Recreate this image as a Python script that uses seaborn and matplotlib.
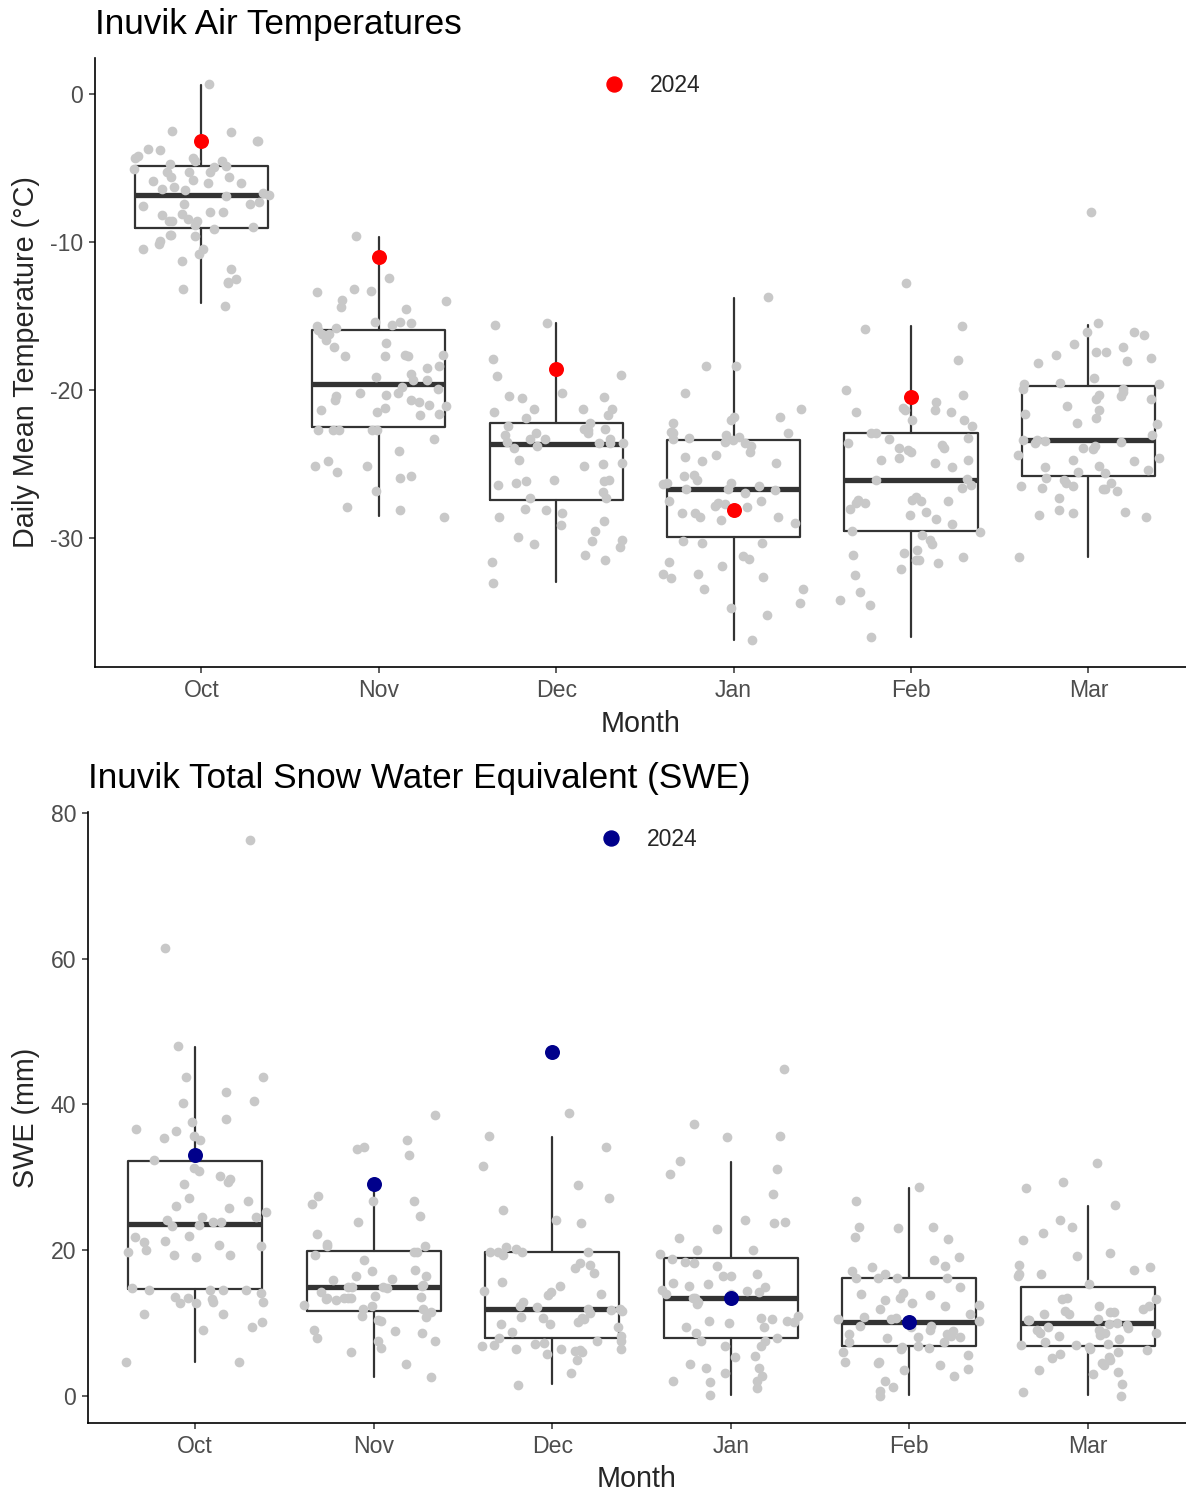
import numpy as np
import pandas as pd
import matplotlib
matplotlib.use("Agg")
import matplotlib.pyplot as plt
from matplotlib.lines import Line2D
import seaborn as sns

months = ["Oct", "Nov", "Dec", "Jan", "Feb", "Mar"]

# daily mean air temperature, one value per year (grey points)
temp_oct = [0.65, -2.6, -2.5, -3.1, -3.2, -3.2, -3.7, -3.8, -4.2, -4.3, -4.3, -4.5, -4.5, -4.7,
            -4.9, -4.95, -5.1, -5.25, -5.25, -5.25, -5.6, -5.6, -5.8, -5.9, -6.0, -6.0, -6.3,
            -6.4, -6.5, -6.7, -6.8, -6.9, -7.3, -7.4, -7.45, -7.6, -7.95, -8.0, -8.1, -8.2,
            -8.45, -8.55, -8.6, -8.6, -8.85, -9.0, -9.1, -9.5, -9.5, -9.6, -9.9, -10.1, -10.5,
            -10.5, -10.8, -11.3, -11.8, -12.5, -12.7, -12.75, -13.2, -14.3]
temp_nov = [-9.6, -12.45, -13.2, -13.3, -13.4, -13.9, -14.0, -14.4, -14.5, -15.4, -15.5, -15.4,
            -15.6, -15.7, -15.95, -15.8, -16.2, -16.2, -16.6, -16.8, -17.1, -17.6, -17.6, -17.7,
            -17.7, -17.7, -18.4, -18.5, -18.9, -19.1, -19.3, -19.3, -19.8, -19.9, -20.2, -20.2,
            -20.3, -20.4, -20.7, -20.7, -20.8, -21.05, -21.0, -21.2, -21.35, -21.5, -21.6, -21.7,
            -22.7, -22.7, -22.7, -22.7, -22.7, -23.3, -24.1, -24.8, -25.1, -25.1, -25.5, -25.8,
            -25.9, -26.8, -27.9, -28.1, -28.6]
temp_dec = [-15.45, -15.6, -17.9, -19.05, -19.0, -20.2, -20.45, -20.4, -20.5, -21.3, -21.3, -21.3,
            -21.5, -21.7, -21.9, -22.2, -22.4, -22.6, -22.6, -22.7, -22.9, -22.9, -23.0, -23.3,
            -23.3, -23.3, -23.5, -23.6, -23.6, -23.6, -23.8, -23.9, -24.7, -25.0, -24.95, -25.1,
            -26.1, -26.15, -26.15, -26.1, -26.4, -26.3, -26.9, -27.3, -27.3, -28.0, -28.1, -28.3,
            -28.6, -28.85, -29.1, -29.5, -29.9, -30.1, -30.2, -30.4, -30.6, -31.1, -31.5, -31.6,
            -33.0]
temp_jan = [-13.7, -18.4, -18.4, -20.2, -21.3, -21.8, -21.8, -22.2, -22.0, -22.8, -22.9, -23.0,
            -22.8, -23.3, -23.15, -22.9, -23.2, -23.5, -23.4, -23.6, -23.8, -24.4, -24.2, -24.5,
            -24.8, -24.95, -25.8, -25.7, -26.1, -26.3, -26.35, -26.3, -26.7, -26.7, -26.5, -26.75,
            -26.98, -27.5, -27.6, -27.5, -27.7, -27.8, -27.9, -28.3, -28.3, -28.6, -28.6, -28.8,
            -28.96, -30.3, -30.2, -30.3, -31.2, -31.4, -31.6, -31.9, -32.4, -32.4, -32.6, -32.7,
            -33.4, -33.4, -34.4, -34.7, -35.2, -36.9]
temp_feb = [-12.8, -15.7, -15.9, -17.97, -20.0, -20.3, -20.8, -21.2, -21.35, -21.35, -21.5, -21.5,
            -22.0, -22.0, -22.4, -22.9, -22.9, -23.2, -23.3, -23.6, -23.7, -23.9, -23.9, -24.05,
            -24.2, -24.6, -24.7, -24.7, -24.9, -25.2, -26.0, -26.1, -26.4, -26.6, -27.4, -27.5,
            -27.6, -27.5, -27.6, -27.2, -27.4, -28.0, -28.2, -28.4, -28.7, -29.05, -29.6, -29.5,
            -30.1, -29.8, -30.4, -30.8, -31.5, -31.3, -31.0, -31.5, -31.7, -31.1, -32.1, -32.5,
            -33.6, -34.2, -34.5, -36.7]
temp_mar = [-8.0, -15.5, -16.1, -16.1, -16.3, -16.9, -17.1, -17.4, -17.45, -17.6, -17.8, -18.0,
            -18.2, -19.2, -19.6, -19.6, -19.55, -19.95, -19.9, -20.1, -20.3, -20.4, -20.6, -20.6,
            -21.1, -21.35, -21.6, -21.9, -22.2, -22.3, -23.0, -23.4, -23.4, -23.6, -23.45, -23.5,
            -23.8, -24.0, -23.9, -24.4, -24.7, -24.6, -24.8, -25.1, -25.2, -25.4, -25.5, -25.6,
            -25.9, -26.1, -26.3, -26.5, -26.5, -26.3, -26.6, -26.7, -26.7, -26.8, -27.3, -28.1,
            -28.2, -28.3, -28.4, -28.6, -31.3]
temp_2024 = [-3.2, -11.0, -18.6, -28.1, -20.45, None]

# box statistics per month as drawn: lower whisker, Q1, median, Q3, upper whisker
temp_whislo = [-14.15, -28.5, -32.95, -36.9, -36.7, -31.3]
temp_q1 = [-9.05, -22.5, -27.4, -29.9, -29.5, -25.8]
temp_med = [-6.8, -19.6, -23.65, -26.7, -26.1, -23.4]
temp_q3 = [-4.9, -15.95, -22.25, -23.4, -22.9, -19.7]
temp_whishi = [0.6, -9.65, -15.5, -13.8, -15.7, -15.6]

# total snow water equivalent (mm), one value per year
swe_oct = [76.3, 61.5, 48.0, 43.7, 43.7, 41.7, 40.2, 40.4, 38.0, 37.6, 36.6, 36.4, 35.7, 35.4,
           35.1, 32.4, 31.3, 30.9, 30.2, 29.8, 29.4, 29.05, 27.2, 26.8, 26.1, 25.8, 25.2, 24.6,
           24.5, 24.15, 23.8, 23.8, 23.5, 23.3, 22.0, 21.8, 21.3, 21.1, 20.7, 20.6, 20.0, 19.8,
           19.4, 19.4, 19.0, 14.8, 14.6, 14.6, 14.5, 14.5, 14.1, 13.6, 13.3, 13.5, 12.7, 12.7,
           12.9, 12.9, 11.3, 11.3, 10.2, 9.4, 9.1, 4.6, 4.6]
swe_nov = [38.6, 35.1, 34.1, 33.9, 33.0, 27.4, 26.8, 26.8, 26.4, 24.7, 23.9, 22.2, 20.8, 20.6,
           20.6, 19.7, 19.8, 19.35, 18.6, 17.3, 17.2, 16.5, 16.4, 16.05, 15.9, 15.2, 15.1, 15.0,
           14.9, 14.9, 14.8, 14.3, 13.7, 13.5, 13.4, 13.4, 13.6, 13.4, 13.2, 13.3, 12.5, 12.0,
           11.9, 11.5, 12.3, 11.0, 10.9, 10.4, 10.3, 8.9, 9.0, 8.6, 7.9, 7.5, 7.55, 6.6, 6.0,
           4.4, 2.65]
swe_dec = [38.8, 35.6, 34.2, 31.5, 28.9, 27.2, 25.5, 24.1, 23.7, 20.4, 20.1, 19.8, 19.35, 19.8,
           19.7, 19.7, 18.3, 18.0, 17.6, 16.9, 15.7, 15.1, 14.45, 14.3, 14.0, 13.8, 12.9, 12.4,
           12.2, 11.8, 11.9, 12.0, 11.6, 11.4, 10.9, 10.7, 10.5, 10.7, 10.2, 9.9, 9.9, 9.4, 8.8,
           8.2, 7.9, 7.5, 7.1, 7.5, 6.9, 7.3, 6.5, 6.3, 6.2, 5.7, 6.1, 6.4, 7.0, 6.5, 5.0, 3.1,
           1.5]
swe_jan = [44.8, 37.3, 35.7, 35.5, 32.2, 31.1, 30.5, 27.7, 24.1, 23.9, 23.7, 22.9, 21.7, 20.0,
           19.5, 20.0, 18.8, 18.4, 18.2, 17.9, 16.7, 16.4, 16.4, 15.5, 15.4, 15.1, 14.9, 14.5,
           14.45, 14.2, 14.0, 13.95, 13.5, 13.5, 12.9, 12.6, 11.0, 10.5, 10.3, 10.7, 10.3, 10.1,
           9.97, 9.5, 9.4, 8.6, 8.0, 7.55, 7.55, 6.9, 6.8, 5.5, 5.3, 4.4, 3.9, 3.9, 3.2, 2.7,
           2.1, 1.97, 2.1, 1.05, 0.14]
swe_feb = [28.6, 26.7, 23.2, 23.0, 23.2, 21.8, 21.5, 19.0, 18.6, 17.9, 17.7, 17.2, 16.7, 16.2,
           16.2, 16.2, 16.2, 14.9, 14.1, 13.95, 13.9, 13.4, 13.1, 12.7, 12.5, 12.4, 12.0, 11.3,
           10.9, 10.7, 10.5, 10.3, 10.5, 9.65, 9.5, 9.65, 9.06, 8.9, 8.5, 8.5, 8.2, 8.0, 8.05,
           8.1, 7.45, 7.4, 6.8, 6.7, 6.6, 6.5, 6.1, 5.6, 4.6, 4.5, 4.6, 4.25, 3.7, 3.5, 2.7,
           2.06, 1.2, 0.7, 0.0]
swe_mar = [32.0, 29.4, 28.5, 26.2, 24.15, 23.2, 22.3, 21.4, 19.6, 19.2, 17.75, 18.0, 17.3, 16.8,
           16.7, 16.4, 15.4, 13.4, 13.3, 13.3, 12.4, 12.4, 12.0, 11.7, 11.5, 11.3, 11.3, 11.5,
           10.6, 10.4, 10.4, 9.7, 9.97, 9.9, 9.5, 9.3, 9.06, 9.06, 8.7, 8.6, 8.6, 8.4, 8.2, 7.8,
           7.45, 7.2, 7.0, 7.0, 6.5, 6.7, 6.3, 6.0, 5.7, 5.3, 5.2, 5.0, 4.5, 4.25, 3.6, 3.25,
           3.0, 1.7, 0.6, 0.0]
swe_2024 = [33.1, 29.1, 47.2, 13.5, 10.2, None]

swe_whislo = [4.6, 2.65, 1.6, 0.1, 0.1, 0.1]
swe_q1 = [14.7, 11.7, 8.0, 8.0, 6.8, 6.8]
swe_med = [23.6, 14.9, 12.0, 13.5, 10.2, 9.97]
swe_q3 = [32.2, 19.9, 19.7, 18.9, 16.2, 14.9]
swe_whishi = [47.9, 29.1, 35.5, 32.1, 28.5, 26.0]


def to_long(series):
    rows = []
    for m, vals in zip(months, series):
        rows += [(m, v) for v in vals]
    return pd.DataFrame(rows, columns=["Month", "Value"])


def highlight(vals):
    rows = [(m, v) for m, v in zip(months, vals) if v is not None]
    return pd.DataFrame(rows, columns=["Month", "Value"])


sns.set_theme(style="ticks")
plt.rcParams["font.family"] = ["Liberation Sans", "DejaVu Sans"]
plt.rcParams["axes.unicode_minus"] = False

fig = plt.figure(figsize=(11.86, 14.93), dpi=100)
ax1 = fig.add_axes([0.080, 0.5532, 0.920, 0.4080])
ax2 = fig.add_axes([0.0742, 0.0469, 0.9258, 0.4092])

BOX = "#333333"
np.random.seed(3)


def panel(ax, series, hl_vals, hl_color, stats, title, ylabel, ylim, yticks, ylabelpad):
    pts = to_long(series)
    hl = highlight(hl_vals)

    lo, q1, med, q3, hi = stats
    bstats = [dict(whislo=a, q1=b, med=c, q3=d, whishi=e)
              for a, b, c, d, e in zip(lo, q1, med, q3, hi)]
    ax.bxp(bstats, positions=range(len(months)), widths=0.75, showfliers=False,
           showcaps=False, manage_ticks=False, patch_artist=False,
           boxprops=dict(color=BOX, linewidth=1.6, zorder=1),
           whiskerprops=dict(color=BOX, linewidth=1.6, zorder=1),
           medianprops=dict(color=BOX, linewidth=3.8, solid_capstyle="butt", zorder=1))

    sns.stripplot(data=pts, x="Month", y="Value", order=months, jitter=0.4,
                  color="#c8c8c8", size=7.0, linewidth=0, ax=ax, zorder=2)
    sns.stripplot(data=hl, x="Month", y="Value", order=months, jitter=False,
                  color=hl_color, size=10.8, linewidth=0, ax=ax, zorder=3)

    ax.set_xlim(-0.6, 5.55)
    ax.set_ylim(*ylim)
    ax.set_yticks(yticks)
    ax.set_title(title, loc="left", fontsize=25.3, pad=17.5, color="black")
    ax.set_xlabel("Month", fontsize=20.7, labelpad=5.5)
    ax.set_ylabel(ylabel, fontsize=20.7, labelpad=ylabelpad)
    ax.tick_params(axis="both", labelsize=16.6, labelcolor="#4d4d4d",
                   color="#333333", length=4.5, width=1.1, pad=4)
    sns.despine(ax=ax)
    for s in ("left", "bottom"):
        ax.spines[s].set_linewidth(1.2)
        ax.spines[s].set_color("black")

    handle = Line2D([], [], marker="o", linestyle="none", color=hl_color,
                    markersize=10.8)
    ax.legend([handle], ["2024"], loc="upper center", bbox_to_anchor=(0.505, 1.008),
              frameon=False, fontsize=16.5, handletextpad=0.55)


panel(ax1, [temp_oct, temp_nov, temp_dec, temp_jan, temp_feb, temp_mar], temp_2024, "red",
      (temp_whislo, temp_q1, temp_med, temp_q3, temp_whishi),
      "Inuvik Air Temperatures", "Daily Mean Temperature (°C)",
      (-38.7, 2.43), [0, -10, -20, -30], 7)
panel(ax2, [swe_oct, swe_nov, swe_dec, swe_jan, swe_feb, swe_mar], swe_2024, "#00008b",
      (swe_whislo, swe_q1, swe_med, swe_q3, swe_whishi),
      "Inuvik Total Snow Water Equivalent (SWE)", "SWE (mm)",
      (-3.7, 80.1), [0, 20, 40, 60, 80], 8)

fig.savefig("out.png", dpi=100)
